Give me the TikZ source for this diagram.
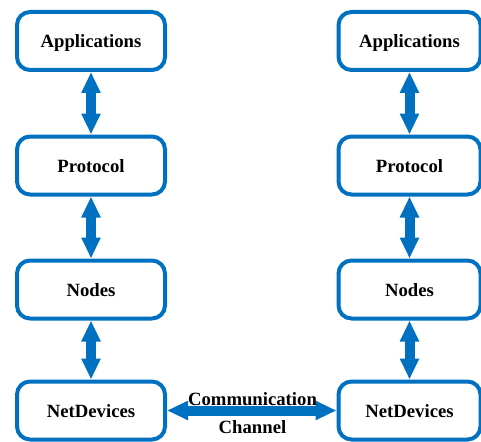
\documentclass[tikz,border=0pt]{standalone}
\usepackage{fontspec}
\setmainfont{Liberation Serif}
\usetikzlibrary{arrows.meta}
\definecolor{stackblue}{HTML}{0070C0}
\begin{document}
\begin{tikzpicture}[x=1pt, y=-1pt,
  layerbox/.style={draw=stackblue, line width=4pt, rounded corners=13pt, fill=white,
    minimum height=58pt, inner sep=0pt, text height=13pt, text depth=0pt,
    font=\fontsize{18.7pt}{22pt}\selectfont\bfseries},
  leftbox/.style={layerbox, minimum width=148pt},
  rightbox/.style={layerbox, minimum width=142pt},
  link/.style={draw=stackblue, line width=10pt,
    {Triangle[length=21pt,width=18pt]}-{Triangle[length=21pt,width=18pt]}}
]
\useasboundingbox (0,0) rectangle (481,441);

% left protocol stack
\node[leftbox] (appL)  at (91,41)    {Applications};
\node[leftbox] (protL) at (91,165.5) {Protocol};
\node[leftbox] (nodeL) at (91,289.5) {Nodes};
\node[leftbox] (devL)  at (91,410.5) {NetDevices};

% right protocol stack
\node[rightbox] (appR)  at (409.5,41)    {Applications};
\node[rightbox] (protR) at (409.5,165.5) {Protocol};
\node[rightbox] (nodeR) at (409.5,289.5) {Nodes};
\node[rightbox] (devR)  at (409.5,410.5) {NetDevices};

% links between layers
\draw[link] (appL.south)  -- (protL.north);
\draw[link] (protL.south) -- (nodeL.north);
\draw[link] (nodeL.south) -- (devL.north);
\draw[link] (appR.south)  -- (protR.north);
\draw[link] (protR.south) -- (nodeR.north);
\draw[link] (nodeR.south) -- (devR.north);

% channel between the two devices
\draw[link] (devL.east) -- (devR.west);
\node[align=center, inner sep=0pt,
      font=\fontsize{18.7pt}{28pt}\selectfont\bfseries] (chan) at (252.5,412.6)
  {Communication\\Channel};
\end{tikzpicture}
\end{document}
